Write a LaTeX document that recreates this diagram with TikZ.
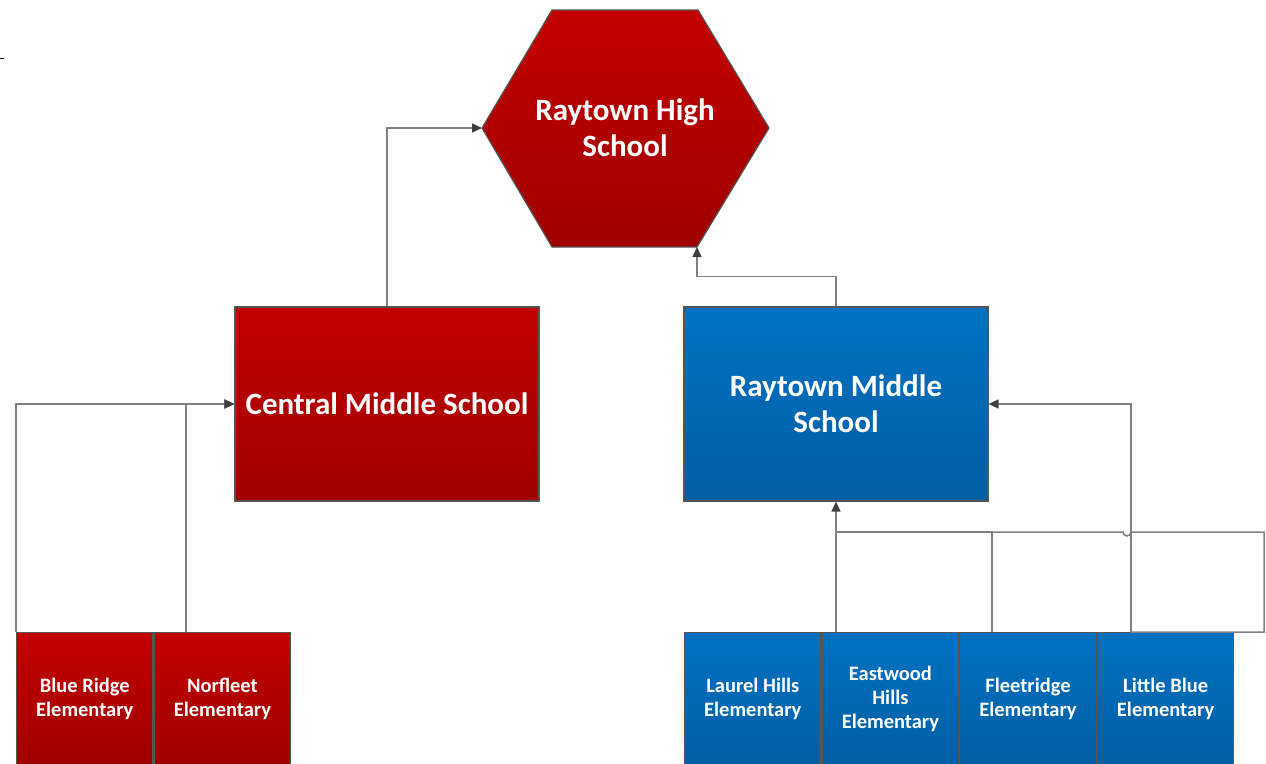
\documentclass[tikz,border=0pt]{standalone}
\usepackage{fontspec}
\setmainfont{Carlito}
\usetikzlibrary{shapes.geometric, arrows.meta, positioning}
\definecolor{hsred}{RGB}{194,0,0}
\definecolor{hsreddark}{RGB}{160,0,0}
\definecolor{msblue}{RGB}{0,114,194}
\definecolor{msbluedark}{RGB}{0,94,164}
\definecolor{edgegray}{RGB}{85,85,85}
\definecolor{linegray}{RGB}{128,128,128}
\definecolor{tipgray}{RGB}{64,64,64}

\begin{document}
\begin{tikzpicture}[
    x=1pt, y=-1pt,
    block/.style={rectangle, draw=edgegray, line width=1.2pt, text=white, align=center, inner sep=0pt,
        minimum width=304pt, minimum height=194pt, font=\fontsize{31}{36}\selectfont\bfseries},
    elem/.style={block, minimum width=136.4pt, minimum height=132pt, font=\fontsize{20.5}{24}\selectfont\bfseries},
    redfill/.style={top color=hsred, bottom color=hsreddark},
    bluefill/.style={top color=msblue, bottom color=msbluedark},
    conn/.style={draw=linegray, line width=1.5pt},
    arrow/.style={conn, -{Triangle[length=10pt, width=9pt, color=tipgray]}}
]
\useasboundingbox (0,0) rectangle (1266,763);
\clip (0,0) rectangle (1266,763);

% stray tick
\draw[line width=1pt] (0,58) -- (4,58);

% High school hexagon
\coordinate (hsL) at (482,128);
\coordinate (hsBR) at (697,247);
\shade[top color=hsred, bottom color=hsreddark, draw=edgegray, line width=1.2pt]
    (hsL) -- (552,10) -- (698,10) -- (769,128) -- (hsBR) -- (552,247) -- cycle;
\node[text=white, align=center, font=\fontsize{31}{36}\selectfont\bfseries] (hs) at (625,128) {Raytown High\\School};

% Middle schools
\node[block, redfill] (cms) at (387,404) {Central Middle School};
\node[block, bluefill] (rms) at (836,404) {Raytown Middle\\School};

% Elementary schools
\node[elem, redfill, anchor=north west] (br) at (16,632) {Blue Ridge\\Elementary};
\node[elem, redfill, right=0pt of br] (nf) {Norfleet\\Elementary};
\node[elem, bluefill, anchor=north west] (lh) at (684,632) {Laurel Hills\\Elementary};
\node[elem, bluefill, right=0pt of lh] (ew) {Eastwood\\Hills\\Elementary};
\node[elem, bluefill, right=0pt of ew] (fr) {Fleetridge\\Elementary};
\node[elem, bluefill, right=0pt of fr] (lb) {Little Blue\\Elementary};

% Arrows to the high school
\draw[arrow] (cms.north) |- (hsL);
\draw[arrow] (rms.north) -- ++(0,-30) -| (hsBR);

% Arrows to Central Middle
\draw[arrow] (br.north west) |- (cms.west);
\draw[arrow] ([xshift=32.5pt]nf.north west) |- (cms.west);

% Arrows to Raytown Middle
\coordinate (bus) at (836,532);
\coordinate (lbtop) at ([xshift=34pt]lb.north west);
\draw[arrow] (rms.south |- ew.north) -- (rms.south);
\draw[conn] ([xshift=33pt]fr.north west) |- (bus);
\draw[conn] (lbtop) -- (1264,632) -- (1264,532) -- (1131,532) arc[start angle=0, end angle=180, radius=4] -- (bus);
\draw[arrow] (lbtop) |- (rms.east);
\end{tikzpicture}
\end{document}
